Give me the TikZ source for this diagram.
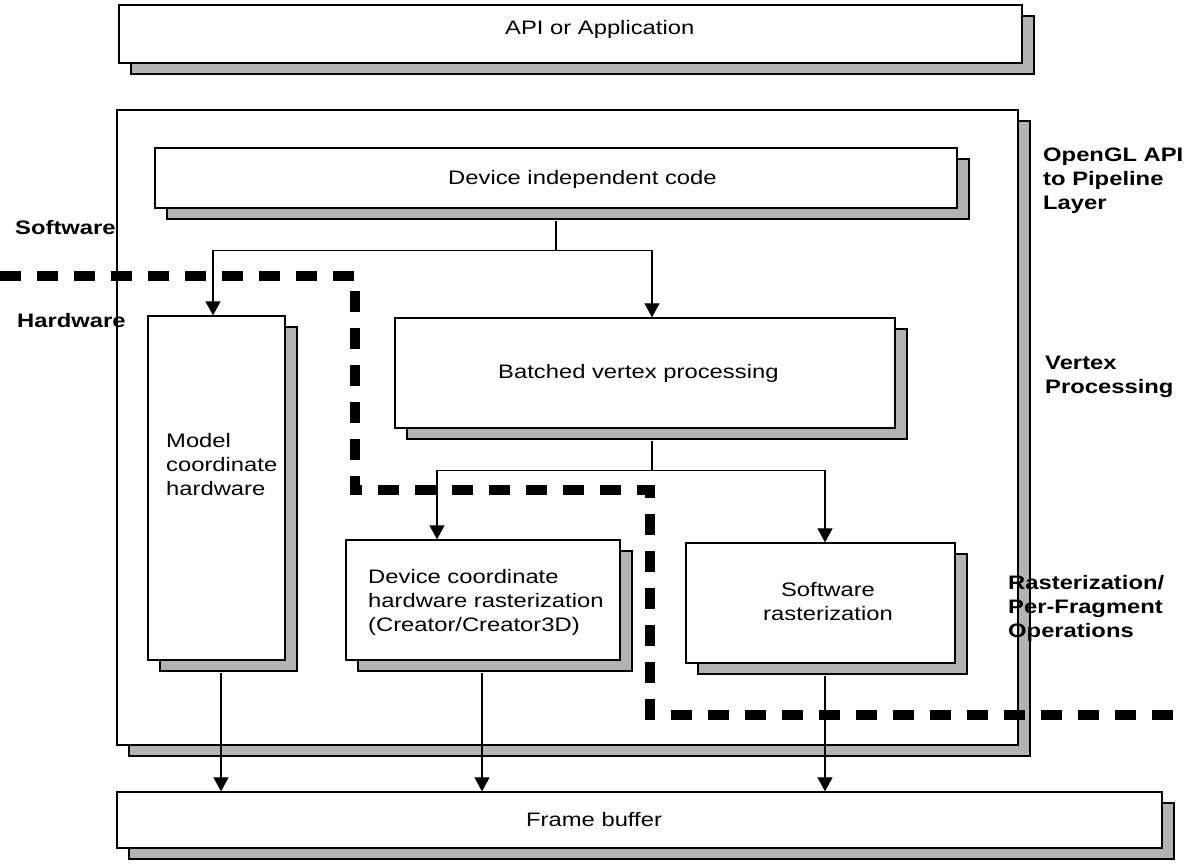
\documentclass[tikz,border=0pt]{standalone}
\usepackage{fontspec}
\setmainfont[FakeStretch=1.22]{Liberation Sans}
\usetikzlibrary{arrows.meta,shadows}
\definecolor{shade}{HTML}{B3B3B3}
\tikzset{
  box/.style={draw=black, line width=1.3pt, fill=white, inner sep=0pt,
    drop shadow={shadow xshift=12pt, shadow yshift=-11pt, fill=shade, draw=black, line width=1.3pt, opacity=1}},
  txt/.style={inner sep=0pt, anchor=west, align=left, font=\fontsize{19.5}{24}\selectfont},
  lbl/.style={inner sep=0pt, anchor=west, align=left, font=\fontsize{19.5}{24}\selectfont\bfseries},
  conn/.style={line width=1.2pt},
  arr/.style={line width=1.2pt, -{Triangle[length=14pt,width=15pt]}},
  swhw/.style={line width=10pt, dash pattern=on 21pt off 16pt}
}
\begin{document}
\begin{tikzpicture}[x=1pt,y=-1pt]
\useasboundingbox (0,0) rectangle (1184,865);
% boxes
\node[box, minimum width=903pt, minimum height=58pt] (api) at (570.5,34) {};
\node[box, minimum width=901pt, minimum height=635pt] (main) at (567.5,427.5) {};
\node[box, minimum width=802pt, minimum height=60pt] (dic) at (556,178) {};
\node[box, minimum width=500pt, minimum height=110pt] (bvp) at (645,373) {};
\node[box, minimum width=137pt, minimum height=344pt] (mch) at (216.5,488) {};
\node[box, minimum width=274pt, minimum height=120pt] (dchr) at (483,600) {};
\node[box, minimum width=269pt, minimum height=120pt] (sr) at (820.5,603) {};
\node[box, minimum width=1045pt, minimum height=56pt] (fb) at (639.5,820) {};
% box texts
\node[txt] (apit) at (505,29) {API or Application};
\node[txt] (dict) at (448,179) {Device independent code};
\node[txt] (bvpt) at (498,373) {Batched vertex processing};
\node[txt] (mcht) at (166,465) {Model\\coordinate\\hardware};
\node[txt] (dchrt) at (368,602) {Device coordinate\\hardware rasterization\\(Creator/Creator3D)};
\node[txt, anchor=center, align=center] (srt) at (828,602) {Software\\rasterization};
\node[txt] (fbt) at (526,820) {Frame buffer};
% labels
\node[lbl] (sw) at (15,228) {Software};
\node[lbl] (hw) at (17,321) {Hardware};
\node[lbl] (ogl) at (1043,181) {OpenGL API\\to Pipeline\\Layer};
\node[lbl] (vp) at (1045,377) {Vertex\\Processing};
\node[lbl] (rast) at (1008,608) {Rasterization/\\Per-Fragment\\Operations};
% software/hardware boundary
\coordinate (b0) at (0,276);
\coordinate (b1) at (355,276);
\coordinate (b2) at (355,490);
\coordinate (b3) at (650,490);
\coordinate (b4) at (650,715);
\coordinate (b5) at (1184,715);
\draw[swhw] (b0) -- (b1) -- (b2) -- (b3) -- (b4) -- (b5);
% connectors
\path ([yshift=-12pt]dic.south) ++(0,30) coordinate (j1);
\draw[conn] ([yshift=-12pt]dic.south) -- (j1);
\draw[arr] (j1) -| ([xshift=-3.5pt]mch.north);
\draw[arr] (j1) -| ([xshift=7pt]bvp.north);
\path ([xshift=7pt,yshift=-12pt]bvp.south) ++(0,30) coordinate (j2);
\draw[conn] ([xshift=7pt,yshift=-12pt]bvp.south) -- (j2);
\draw[arr] (j2) -| ([xshift=-46pt]dchr.north);
\draw[arr] (j2) -| ([xshift=4.5pt]sr.north);
\coordinate (m1) at ([xshift=4.5pt,yshift=-12pt]mch.south);
\coordinate (m2) at ([xshift=-1pt,yshift=-12pt]dchr.south);
\coordinate (m3) at ([xshift=4.5pt,yshift=-12pt]sr.south);
\draw[arr] (m1) -- (fb.north -| m1);
\draw[arr] (m2) -- (fb.north -| m2);
\draw[arr] (m3) -- (fb.north -| m3);
\end{tikzpicture}
\end{document}
